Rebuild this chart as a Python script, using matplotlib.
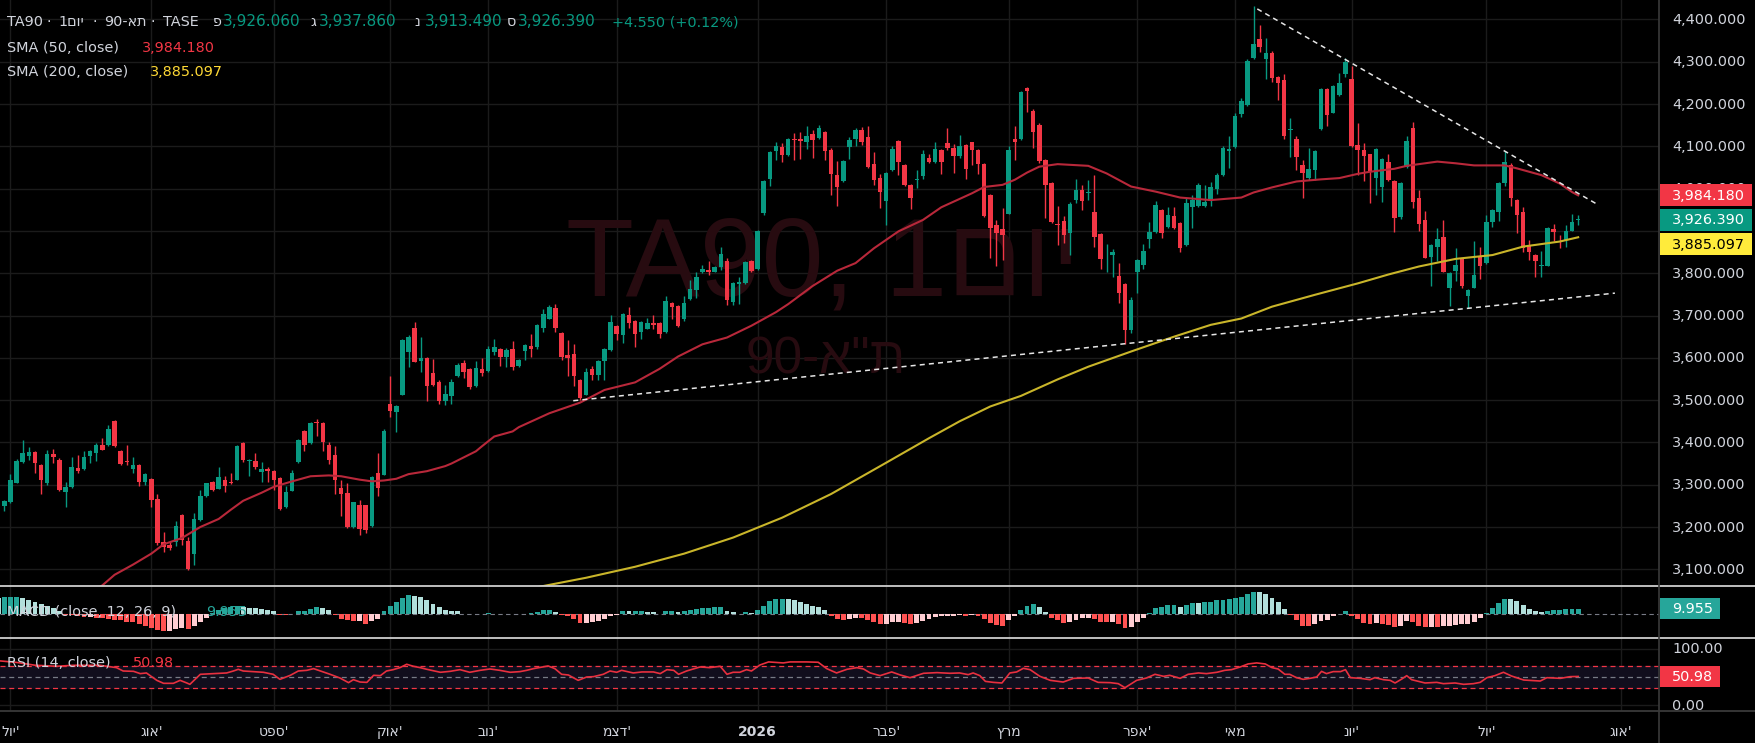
import numpy as np
import matplotlib
matplotlib.use("Agg")
import matplotlib.pyplot as plt
from matplotlib.patches import Rectangle
from matplotlib.lines import Line2D
from matplotlib.transforms import blended_transform_factory, offset_copy, Bbox, TransformedBbox

plt.rcParams['font.family'] = ['DejaVu Sans']

# daily candles TA90 (bar index 0..258)
opens = [
    3150, 3249, 3258, 3305, 3354, 3369, 3378, 3347, 3303, 3373,
    3359, 3282, 3294, 3340, 3336, 3369, 3376, 3395, 3393, 3451,
    3380, 3357, 3338, 3347, 3307, 3314, 3267, 3165, 3158, 3164,
    3229, 3168, 3135, 3216, 3273, 3306, 3291, 3312, 3307, 3312,
    3398, 3356, 3357, 3329, 3336, 3333, 3317, 3248, 3286, 3354,
    3428, 3399, 3448, 3447, 3393, 3371, 3293, 3281, 3200, 3251,
    3251, 3203, 3328, 3324, 3491, 3473, 3513, 3614, 3671, 3593,
    3600, 3565, 3543, 3498, 3510, 3558, 3588, 3574, 3534, 3574,
    3569, 3614, 3621, 3602, 3621, 3581, 3617, 3628, 3626, 3671,
    3693, 3718, 3659, 3607, 3609, 3548, 3513, 3574, 3560, 3593,
    3619, 3675, 3655, 3701, 3687, 3660, 3669, 3682, 3682, 3660,
    3730, 3723, 3693, 3738, 3761, 3802, 3808, 3804, 3815, 3829,
    3733, 3774, 3776, 3829, 3810, 3943, 4022, 4090, 4099, 4080,
    4118, 4118, 4111, 4130, 4120, 4135, 4092, 4033, 4018, 4099,
    4118, 4139, 4123, 4059, 4026, 3972, 4043, 4113, 4056, 4009,
    4021, 4029, 4073, 4062, 4092, 4108, 4097, 4078, 4104, 4111,
    4092, 4059, 3985, 3914, 3905, 3941, 4118, 4118, 4239, 4184,
    4150, 4068, 4014, 3917, 3924, 3895, 3974, 3997, 3990, 3945,
    3893, 3842, 3843, 3793, 3775, 3666, 3804, 3820, 3881, 3898,
    3950, 3909, 3935, 3919, 3867, 3957, 3959, 3959, 3971, 4000,
    4033, 4088, 4099, 4177, 4198, 4309, 4354, 4307, 4321, 4264,
    4257, 4139, 4118, 4056, 4025, 4045, 4140, 4236, 4180, 4222,
    4271, 4260, 4103, 4092, 4081, 4026, 4003, 4062, 4018, 3933,
    4051, 4144, 3978, 3926, 3839, 3863, 3886, 3764, 3806, 3834,
    3747, 3766, 3841, 3824, 3921, 3945, 4014, 4056, 3973, 3945,
    3864, 3842, 3818, 3818, 3905, 3889, 3879, 3901, 3926.06]
highs = [
    3257, 3265, 3326, 3360, 3406, 3390, 3380, 3349, 3383, 3385,
    3362, 3307, 3366, 3371, 3380, 3382, 3398, 3411, 3442, 3453,
    3382, 3395, 3366, 3349, 3328, 3316, 3279, 3189, 3165, 3215,
    3231, 3176, 3233, 3288, 3305, 3308, 3343, 3321, 3328, 3395,
    3402, 3360, 3376, 3354, 3343, 3335, 3319, 3298, 3335, 3408,
    3430, 3449, 3456, 3449, 3402, 3392, 3312, 3305, 3260, 3265,
    3253, 3321, 3376, 3432, 3558, 3488, 3645, 3654, 3685, 3650,
    3602, 3598, 3548, 3536, 3550, 3588, 3595, 3576, 3593, 3599,
    3628, 3645, 3623, 3624, 3639, 3597, 3632, 3656, 3680, 3715,
    3724, 3727, 3661, 3642, 3632, 3550, 3577, 3581, 3595, 3623,
    3701, 3677, 3706, 3720, 3689, 3687, 3694, 3701, 3684, 3746,
    3732, 3725, 3746, 3784, 3802, 3820, 3829, 3817, 3862, 3837,
    3779, 3792, 3829, 3831, 3902, 4021, 4089, 4111, 4108, 4120,
    4132, 4135, 4149, 4139, 4151, 4137, 4097, 4066, 4068, 4123,
    4144, 4145, 4149, 4087, 4035, 4039, 4100, 4115, 4058, 4011,
    4045, 4092, 4082, 4111, 4094, 4144, 4106, 4127, 4106, 4111,
    4094, 4061, 3988, 3925, 3955, 4101, 4149, 4231, 4241, 4189,
    4155, 4070, 4016, 3960, 3935, 3969, 4023, 4009, 4021, 4032,
    3895, 3868, 3857, 3824, 3777, 3745, 3833, 3868, 3920, 3970,
    3952, 3957, 3957, 3921, 3978, 3985, 4013, 4009, 4016, 4036,
    4101, 4125, 4180, 4214, 4307, 4432, 4387, 4357, 4326, 4266,
    4271, 4167, 4125, 4068, 4095, 4091, 4238, 4238, 4245, 4273,
    4309, 4289, 4155, 4107, 4083, 4096, 4072, 4082, 4020, 4016,
    4125, 4157, 3997, 3947, 3869, 3906, 3926, 3803, 3860, 3836,
    3762, 3876, 3862, 3938, 3952, 4016, 4090, 4060, 3975, 3957,
    3879, 3846, 3853, 3909, 3917, 3890, 3914, 3940, 3937.86]
lows = [
    3150, 3237, 3256, 3303, 3352, 3359, 3327, 3277, 3300, 3351,
    3285, 3247, 3292, 3327, 3334, 3351, 3357, 3381, 3391, 3389,
    3346, 3347, 3327, 3296, 3299, 3247, 3157, 3140, 3145, 3155,
    3158, 3098, 3111, 3214, 3271, 3285, 3289, 3282, 3301, 3310,
    3353, 3321, 3336, 3307, 3307, 3287, 3241, 3246, 3284, 3352,
    3380, 3397, 3416, 3379, 3348, 3279, 3227, 3197, 3197, 3181,
    3185, 3201, 3273, 3322, 3459, 3424, 3511, 3579, 3589, 3567,
    3497, 3534, 3491, 3489, 3491, 3555, 3553, 3526, 3532, 3558,
    3567, 3607, 3581, 3579, 3572, 3579, 3596, 3601, 3620, 3662,
    3691, 3660, 3596, 3557, 3533, 3500, 3511, 3547, 3548, 3548,
    3617, 3642, 3636, 3671, 3626, 3645, 3667, 3669, 3648, 3658,
    3693, 3673, 3688, 3736, 3742, 3800, 3796, 3802, 3808, 3724,
    3726, 3727, 3774, 3804, 3808, 3938, 4007, 4068, 4064, 4078,
    4068, 4071, 4094, 4073, 4118, 4068, 3984, 3959, 4016, 4071,
    4101, 4104, 4050, 4008, 3955, 3913, 4041, 4033, 4007, 3953,
    4002, 4023, 4061, 4060, 4035, 4092, 4038, 4072, 4023, 4056,
    4035, 3932, 3835, 3818, 3832, 3939, 4067, 4116, 4182, 4097,
    4060, 3930, 3919, 3866, 3871, 3843, 3965, 3950, 3973, 3863,
    3811, 3804, 3790, 3730, 3633, 3658, 3754, 3809, 3859, 3896,
    3884, 3908, 3905, 3850, 3865, 3907, 3957, 3957, 3958, 3988,
    4031, 4049, 4097, 4170, 4196, 4307, 4322, 4260, 4253, 4210,
    4118, 4075, 4043, 3979, 4021, 4021, 4138, 4148, 4178, 4220,
    4264, 4098, 4032, 4017, 3967, 3985, 3969, 4019, 3898, 3928,
    4049, 3955, 3901, 3835, 3771, 3828, 3802, 3723, 3782, 3764,
    3719, 3764, 3787, 3822, 3910, 3924, 4007, 3958, 3896, 3850,
    3832, 3792, 3792, 3816, 3877, 3859, 3863, 3899, 3913.49]
closes = [
    3257, 3262, 3310, 3357, 3376, 3378, 3351, 3310, 3373, 3366,
    3287, 3295, 3343, 3333, 3366, 3380, 3395, 3383, 3432, 3391,
    3348, 3354, 3347, 3306, 3326, 3263, 3162, 3152, 3151, 3203,
    3169, 3100, 3220, 3274, 3303, 3287, 3319, 3296, 3303, 3392,
    3359, 3358, 3343, 3336, 3332, 3312, 3243, 3282, 3328, 3406,
    3395, 3447, 3445, 3400, 3358, 3312, 3277, 3199, 3258, 3196,
    3192, 3319, 3293, 3428, 3475, 3485, 3643, 3650, 3591, 3600,
    3534, 3536, 3498, 3515, 3543, 3584, 3567, 3532, 3576, 3565,
    3621, 3626, 3602, 3619, 3579, 3595, 3630, 3622, 3678, 3704,
    3720, 3671, 3602, 3600, 3556, 3506, 3566, 3559, 3593, 3621,
    3685, 3657, 3704, 3683, 3657, 3685, 3682, 3678, 3657, 3735,
    3721, 3675, 3730, 3763, 3791, 3811, 3802, 3815, 3846, 3737,
    3777, 3780, 3827, 3806, 3900, 4019, 4087, 4101, 4080, 4118,
    4116, 4113, 4125, 4116, 4144, 4088, 4034, 4003, 4066, 4116,
    4139, 4111, 4052, 4021, 3991, 4037, 4093, 4064, 4009, 3977,
    4024, 4082, 4064, 4094, 4064, 4097, 4078, 4101, 4046, 4092,
    4059, 3936, 3908, 3896, 3891, 4092, 4111, 4229, 4230, 4135,
    4065, 4009, 3921, 3915, 3891, 3964, 3997, 3972, 3992, 3886,
    3834, 3844, 3850, 3753, 3666, 3737, 3831, 3853, 3898, 3961,
    3895, 3938, 3907, 3860, 3966, 3973, 4009, 3969, 4004, 4033,
    4096, 4094, 4172, 4207, 4302, 4342, 4334, 4321, 4262, 4250,
    4125, 4141, 4074, 4036, 4047, 4089, 4236, 4174, 4243, 4249,
    4300, 4100, 4092, 4078, 4042, 4094, 4070, 4021, 3931, 4014,
    4113, 3969, 3917, 3837, 3867, 3881, 3804, 3801, 3820, 3771,
    3760, 3796, 3818, 3921, 3950, 4014, 4063, 3978, 3938, 3860,
    3850, 3829, 3820, 3907, 3898, 3887, 3901, 3922, 3926.39]

# SMA lines, (bar index, value)
sma50_pts = [(15, 3045), (17, 3062), (19, 3087), (22, 3111), (25, 3137), (27, 3159), (30, 3174),
             (33, 3200), (36, 3219), (38, 3241), (40, 3262), (43, 3281), (45, 3295), (48, 3308),
             (51, 3320), (54, 3322), (56, 3320), (59, 3312), (61, 3308), (63, 3310), (65, 3314),
             (67, 3325), (70, 3332), (73, 3344), (74, 3350), (78, 3379), (79, 3391), (81, 3414),
             (84, 3426), (85, 3436), (90, 3469), (95, 3494), (99, 3524), (104, 3542), (108, 3574),
             (111, 3603), (115, 3632), (119, 3648), (123, 3676), (127, 3708), (129, 3727),
             (133, 3770), (137, 3806), (140, 3824), (143, 3859), (147, 3899), (151, 3926),
             (154, 3956), (159, 3989), (161, 4004), (164, 4009), (166, 4021), (168, 4038),
             (170, 4052), (173, 4058), (178, 4054), (181, 4036), (185, 4005), (189, 3993),
             (193, 3979), (198, 3973), (203, 3979), (205, 3991), (208, 4003), (212, 4017),
             (216, 4022), (219, 4025), (222, 4035), (224, 4040), (228, 4047), (230, 4054),
             (233, 4060), (235, 4064), (238, 4060), (241, 4055), (246, 4055), (248, 4048),
             (252, 4032), (255, 4012), (257, 3992), (258, 3984.18)]
sma200_pts = [(86, 3052), (96, 3080), (104, 3106), (112, 3137), (120, 3175), (128, 3222),
              (136, 3278), (145, 3352), (152, 3410), (157, 3450), (162, 3485), (167, 3510),
              (171, 3536), (173, 3549), (178, 3579), (185, 3615), (192, 3650), (198, 3678),
              (203, 3693), (208, 3721), (215, 3749), (222, 3776), (227, 3797), (232, 3816),
              (238, 3834), (244, 3843), (249, 3863), (255, 3875), (258, 3885.097)]

# drawn trend lines (bar index, price)
support_line = [(93.9, 3498.6), (264.0, 3753.0)]
resist_line = [(205.6, 4425.0), (261.0, 3964.0)]

# MACD histogram (12, 26, 9)
macd_hist = [
    32.0, 32.5, 33.2, 33.9, 31.2, 27.9, 23.2, 18.6, 14.6, 10.6,
    5.3, -2.0, -3.3, -4.6, -6.6, -6.0, -8.0, -9.3, -10.6, -12.0,
    -13.3, -15.9, -17.3, -21.2, -25.2, -29.2, -33.2, -35.2, -34.5, -31.2,
    -29.2, -30.5, -23.9, -15.9, -8.0, 2.0, 6.6, 10.6, 13.9, 14.6,
    13.3, 12.0, 10.6, 9.3, 7.3, 5.3, -2.0, -2.7, -1.3, 4.6,
    6.0, 10.0, 12.6, 11.3, 7.3, -3.3, -10.0, -12.6, -15.3, -14.6,
    -20.6, -15.3, -10.0, 5.3, 15.9, 23.9, 31.9, 36.5, 35.9, 33.2,
    26.6, 18.6, 13.3, 6.6, 6.0, 4.6, -1.3, -0.7, -1.3, -0.7,
    2.0, -0.7, -1.3, -0.7, -1.3, -1.3, -0.7, 0.7, 4.0, 6.6,
    7.3, 3.3, -2.0, -5.3, -10.6, -18.6, -17.9, -17.3, -14.6, -10.6,
    -5.3, -2.0, 5.3, 4.6, 5.3, 6.0, 4.0, 3.3, -0.7, 5.3,
    6.0, 3.3, 4.6, 8.0, 10.0, 12.0, 12.3, 12.6, 12.9, 5.3,
    2.7, -0.7, 2.7, 2.0, 7.3, 15.9, 25.2, 29.2, 29.9, 29.2,
    26.6, 22.6, 18.6, 15.3, 12.6, 7.3, -4.6, -10.6, -12.6, -10.0,
    -8.0, -8.6, -12.6, -16.6, -20.6, -19.9, -17.3, -16.6, -18.6, -19.9,
    -17.9, -14.6, -10.6, -6.6, -5.3, -4.6, -4.0, -3.3, -4.6, -2.7,
    -4.6, -10.6, -17.9, -22.6, -24.6, -13.3, -4.0, 8.0, 15.9, 19.3,
    13.3, 3.3, -8.0, -13.3, -17.9, -15.9, -12.0, -9.3, -8.0, -10.6,
    -15.9, -17.3, -16.6, -21.2, -27.9, -26.6, -17.3, -8.0, 1.3, 12.0,
    13.3, 17.3, 17.9, 13.3, 17.3, 21.9, 21.2, 22.6, 23.9, 26.6,
    27.9, 28.6, 31.9, 33.9, 39.2, 43.8, 43.2, 39.2, 31.2, 23.2,
    9.3, -2.7, -12.0, -23.9, -24.6, -19.9, -14.6, -12.0, -5.3, -0.7,
    5.3, -4.0, -10.6, -17.9, -21.2, -18.6, -19.9, -21.9, -26.6, -25.2,
    -14.6, -17.3, -25.2, -27.2, -26.6, -27.2, -25.2, -23.9, -22.6, -21.2,
    -20.6, -16.6, -8.0, 2.0, 10.6, 21.2, 29.2, 28.6, 24.6, 16.6,
    10.0, 5.3, 2.7, 5.3, 6.6, 7.3, 8.6, 9.0, 9.955]

# RSI (14) line, (bar index, value)
rsi_pts = [(0.3, 78.7), (3, 76), (6, 71), (9.5, 69.1), (12.3, 70.9), (16.6, 70.9), (19.3, 66.7),
           (20.4, 60.7), (22.1, 60.1), (23.2, 56.0), (24.2, 57.2), (25.9, 44.0), (27.0, 38.7),
           (28.6, 38.7), (29.7, 44.0), (30.8, 39.3), (31.3, 36.9), (33.0, 54.8), (35.1, 56.0),
           (37.3, 57.2), (38.4, 60.7), (39.2, 63.7), (40.0, 60.7), (43.3, 58.4), (44.9, 54.8),
           (46.0, 45.8), (47.7, 53.0), (49.0, 60.7), (50.4, 61.9), (51.5, 64.9), (52.6, 60.7),
           (54.2, 54.8), (55.8, 48.2), (57.2, 39.9), (58.0, 45.2), (59.1, 41.0), (60.2, 40.4),
           (61.3, 53.0), (62.4, 52.4), (63.4, 60.7), (64.5, 63.1), (65.6, 66.7), (66.7, 72.7),
           (67.8, 69.1), (68.9, 66.7), (70.0, 63.7), (72.2, 58.4), (73.8, 60.1), (75.4, 63.1),
           (77.0, 58.4), (78.7, 61.9), (80.3, 64.3), (81.9, 61.9), (83.6, 58.4), (85.2, 59.6),
           (86.3, 61.9), (87.4, 64.9), (89.8, 69.7), (90.9, 64.9), (92.0, 54.8), (93.1, 53.6),
           (94.7, 44.0), (96.1, 50.0), (97.2, 50.6), (98.8, 54.8), (99.9, 60.7), (101.0, 58.4),
           (101.8, 61.9), (103.7, 57.2), (105.1, 59.0), (107.0, 59.0), (108.1, 56.0),
           (109.2, 63.1), (110.3, 61.9), (111.1, 54.8), (112.4, 60.7), (114.6, 67.9),
           (116.2, 66.7), (117.9, 69.1), (119.0, 54.8), (120.0, 58.4), (121.1, 58.4),
           (122.2, 63.1), (123.0, 60.7), (124.4, 71.5), (125.8, 76.9), (128.2, 75.1),
           (129.3, 76.9), (132.0, 76.9), (133.9, 76.3), (135.3, 64.9), (136.9, 57.2),
           (138.6, 63.7), (140.2, 66.7), (141.3, 64.3), (142.4, 57.2), (144.0, 52.4),
           (145.9, 59.0), (147.3, 53.6), (148.9, 48.8), (151.1, 56.6), (153.3, 57.8),
           (155.4, 56.6), (157.0, 57.2), (158.4, 54.2), (159.2, 57.2), (160.3, 52.4),
           (161.2, 42.2), (162.5, 40.4), (163.9, 39.3), (165.2, 57.2), (166.3, 59.0),
           (167.4, 65.5), (168.5, 63.1), (170.1, 51.2), (171.8, 44.0), (173.9, 41.0),
           (175.6, 47.6), (178.0, 48.2), (179.6, 40.4), (181.6, 39.9), (182.9, 38.1),
           (184.0, 30.9), (185.9, 44.0), (187.5, 48.2), (188.9, 54.8), (190.3, 51.2),
           (191.3, 53.0), (193.0, 47.6), (194.3, 54.8), (196.0, 57.2), (197.3, 56.0),
           (199.0, 58.4), (200.3, 61.9), (201.4, 63.1), (202.8, 67.9), (204.1, 73.3),
           (205.5, 75.1), (206.9, 73.3), (208.0, 66.7), (209.0, 64.3), (210.1, 54.8),
           (210.9, 54.8), (212.0, 48.8), (213.1, 45.8), (214.2, 47.6), (215.3, 50.0),
           (216.1, 60.1), (216.9, 56.0), (218.0, 59.6), (219.2, 59.6), (220.0, 63.1),
           (220.8, 48.8), (222.4, 47.6), (224.0, 45.2), (224.8, 48.8), (226.2, 45.2),
           (227.3, 44.0), (228.1, 39.3), (229.2, 46.4), (230.0, 52.4), (230.8, 45.2),
           (233.0, 39.3), (234.9, 40.4), (236.0, 38.1), (237.9, 39.3), (239.3, 36.9),
           (240.9, 38.1), (242.0, 40.4), (243.1, 48.8), (244.4, 52.4), (245.8, 58.4),
           (247.1, 51.8), (249.1, 44.6), (251.8, 42.8), (252.9, 48.8), (255.1, 47.6),
           (256.7, 50.6), (258, 50.98)]

# time axis: month starts (bar index) and labels as drawn (visual order)
month_idx = [2, 25, 45, 64, 80, 101, 124, 145, 165, 186, 202, 221, 243, 265]
month_lbl = ["לוי'", "גוא'", "טפס'", "קוא'", "בונ'", "מצד'", "2026",
             "רבפ'", "ץרמ", "רפא'", "יאמ", "נוי'", "לוי'", "גוא'"]
grid_prices = list(range(3100, 4401, 100))
shown_prices = [p for p in grid_prices if p != 3900]   # 3,900 sits under the value labels

GREEN = '#089981'
RED = '#F23645'
TXT = '#d1d4dc'
GRID = '#1b1b1b'

W, H = 1755, 743
fig = plt.figure(figsize=(W / 100, H / 100), dpi=100)
fig.patch.set_facecolor('black')


def rect(x0, y0, x1, y1):
    return [x0 / W, 1 - y1 / H, (x1 - x0) / W, (y1 - y0) / H]


ax = fig.add_axes(rect(0, 0, 1659, 586))
axm = fig.add_axes(rect(0, 586, 1659, 638))
axr = fig.add_axes(rect(0, 638, 1659, 711))
for a in (ax, axm, axr):
    a.set_facecolor('black')
    a.set_xlim(0.29, 271.2)
    a.set_xticks([])
    a.set_yticks([])
    for s in a.spines.values():
        s.set_visible(False)
    for m in month_idx:
        a.axvline(m, color=GRID, lw=1, zorder=0)
ax.set_ylim(3060.5, 4446.1)
axm.set_ylim(-48.4, 55.2)
axr.set_ylim(-10.7, 119.6)

# ---- price pane ----
for p in grid_prices:
    ax.axhline(p, color=GRID, lw=1, zorder=0)

ax.text(0.496, 1 - 296 / 586, "TA90, 1םוי", transform=ax.transAxes, ha='center', va='baseline',
        fontsize=80, color='#270b10', family=['Liberation Sans', 'DejaVu Sans'], zorder=0.5)
ax.text(0.498, 1 - 373 / 586, '90-א"ת', transform=ax.transAxes, ha='center', va='baseline',
        fontsize=37, color='#270b10', family=['Liberation Sans', 'DejaVu Sans'], zorder=0.5)

o, hi, lo, c = (np.array(v, dtype=float) for v in (opens, highs, lows, closes))
idx = np.arange(len(c))
col = np.where(c >= o, GREEN, RED)
ax.vlines(idx, lo, hi, colors=col, lw=1.0, zorder=3)
ax.bar(idx, np.maximum(np.abs(c - o), 1.6), bottom=np.minimum(o, c), width=0.74,
       color=col, linewidth=0, zorder=4)

sx, sy = zip(*sma50_pts)
ax.plot(sx, sy, color='#b8283a', lw=1.5, zorder=5)
sx, sy = zip(*sma200_pts)
ax.plot(sx, sy, color='#c9b52a', lw=1.5, zorder=5)

for ln in (support_line, resist_line):
    lx, ly = zip(*ln)
    ax.plot(lx, ly, color='#e6e6e6', lw=1.1, linestyle=(0, (3.3, 2.7)), zorder=6)

# ---- MACD pane ----
hist = np.array(macd_hist)
prev = np.r_[hist[0], hist[:-1]]
mcol = np.where(hist >= 0, np.where(hist > prev, '#26A69A', '#B2DFDB'),
                np.where(hist < prev, '#FF5252', '#FFCDD2'))
axm.axhline(0, color='#787b86', lw=0.8, linestyle=(0, (4, 3)), zorder=1)
axm.bar(idx, hist, width=0.8, color=mcol, linewidth=0, zorder=2)

# ---- RSI pane ----
axr.axhspan(30, 70, color='#110e1d', zorder=0.5)
for lvl in (0, 100):
    axr.axhline(lvl, color=GRID, lw=1, zorder=0.6)
axr.axhline(70, color=RED, lw=0.9, linestyle=(0, (4, 3)), zorder=1)
axr.axhline(30, color=RED, lw=0.9, linestyle=(0, (4, 3)), zorder=1)
axr.axhline(50, color='#787b86', lw=0.9, linestyle=(0, (4, 3)), zorder=1)
rx, ry = zip(*rsi_pts)
axr.plot(rx, ry, color='#e8303f', lw=1.2, zorder=3)

# ---- frame lines ----
for yy, cc in ((586, '#cfcfcf'), (638, '#cfcfcf'), (711, '#3a3a3a')):
    fig.add_artist(Line2D([0, 1], [1 - yy / H] * 2, transform=fig.transFigure, color=cc, lw=1.3))
fig.add_artist(Line2D([1659 / W] * 2, [0, 1], transform=fig.transFigure, color='#3a3a3a', lw=1.2))

FS = 10.4


def ftext(x, yb, s, **kw):
    kw.setdefault('color', TXT)
    kw.setdefault('fontsize', FS)
    fig.text(x / W, 1 - yb / H, s, va='baseline', ha='left', **kw)


# legend texts (x start, baseline in px)
ftext(7, 26, "TA90")
ftext(46, 26, "·")
ftext(58, 26, "1םוי")
ftext(93, 26, "·")
ftext(104, 26, "90-את")
ftext(151, 26, "·")
ftext(163, 26, "TASE")
ohlc = [("פ", 213, "3,926.060", 223), ("ג", 310, "3,937.860", 319),
        ("נ", 414, "3,913.490", 425), ("ס", 507, "3,926.390", 518)]
for lt, lx, val, vx in ohlc:
    ftext(lx, 26, lt)
    ftext(vx, 26, val, color=GREEN, fontsize=11)
ftext(612, 26, "+4.550 (+0.12%)", color=GREEN)
ftext(7, 52, "SMA (50, close)")
ftext(142, 52, "3,984.180", color=RED)
ftext(7, 76, "SMA (200, close)")
ftext(150, 76, "3,885.097", color='#FDD835')
ftext(7, 616, "MACD (close, 12, 26, 9)")
ftext(206, 616, "9.955", color='#26A69A')
ftext(7, 667, "RSI (14, close)")
ftext(133, 667, "50.98", color=RED)

# price scale
tp = offset_copy(blended_transform_factory(fig.transFigure, ax.transData), fig=fig, y=-4.5, units='dots')
upper_clip = TransformedBbox(Bbox.from_extents(0, 1 - 184 / H, 1, 1), fig.transFigure)
for p in shown_prices:
    t = fig.text(1672 / W, p, f"{p:,.3f}", transform=tp, va='baseline', ha='left',
                 color=TXT, fontsize=FS, zorder=3)
    if p == 4000:   # mostly covered by the SMA(50) value label
        t.set_clip_box(upper_clip)
        t.set_clip_on(True)

upp = (4446.1 - 3060.5) / 586.0
tb = blended_transform_factory(fig.transFigure, ax.transData)
price_boxes = [(3984.18, "3,984.180", RED, 'white'),
               (3926.39, "3,926.390", GREEN, 'white'),
               (3926.39 - 24.6 * upp, "3,885.097", '#FFEB3B', 'black')]
for yc, s, fc, tc in price_boxes:
    fig.add_artist(Rectangle((1660 / W, yc - 11 * upp), 92 / W, 22 * upp, transform=tb,
                             facecolor=fc, edgecolor='none', zorder=5))
    fig.text(1672 / W, yc, s, transform=tp, va='baseline', ha='left', color=tc,
             fontsize=FS, zorder=6)

# MACD / RSI scale labels
tm = blended_transform_factory(fig.transFigure, axm.transData)
tmo = offset_copy(tm, fig=fig, y=-4.5, units='dots')
mupp = (55.2 + 48.4) / 52.0
fig.add_artist(Rectangle((1660 / W, 9.955 - 10.5 * mupp), 60 / W, 21 * mupp, transform=tm,
                         facecolor='#26A69A', edgecolor='none', zorder=5))
fig.text(1672 / W, 9.955, "9.955", transform=tmo, va='baseline', ha='left', color='white',
         fontsize=FS, zorder=6)

trr = blended_transform_factory(fig.transFigure, axr.transData)
tro = offset_copy(trr, fig=fig, y=-4.5, units='dots')
rupp = (119.6 + 10.7) / 73.0
for v, s in ((100, "100.00"), (0, "0.00")):
    fig.text(1672 / W, v, s, transform=tro, va='baseline', ha='left', color=TXT, fontsize=FS)
fig.add_artist(Rectangle((1660 / W, 50.98 - 10.5 * rupp), 60 / W, 21 * rupp, transform=trr,
                         facecolor=RED, edgecolor='none', zorder=5))
fig.text(1672 / W, 50.98, "50.98", transform=tro, va='baseline', ha='left', color='white',
         fontsize=FS, zorder=6)

# time axis
tt = blended_transform_factory(axr.transData, fig.transFigure)
for m, s in zip(month_idx, month_lbl):
    fig.text(m, 1 - 736 / H, s, transform=tt, ha='center', va='baseline', color=TXT,
             fontsize=10, fontweight='bold' if s == "2026" else 'normal')

fig.savefig("out.png", dpi=100, facecolor='black')
